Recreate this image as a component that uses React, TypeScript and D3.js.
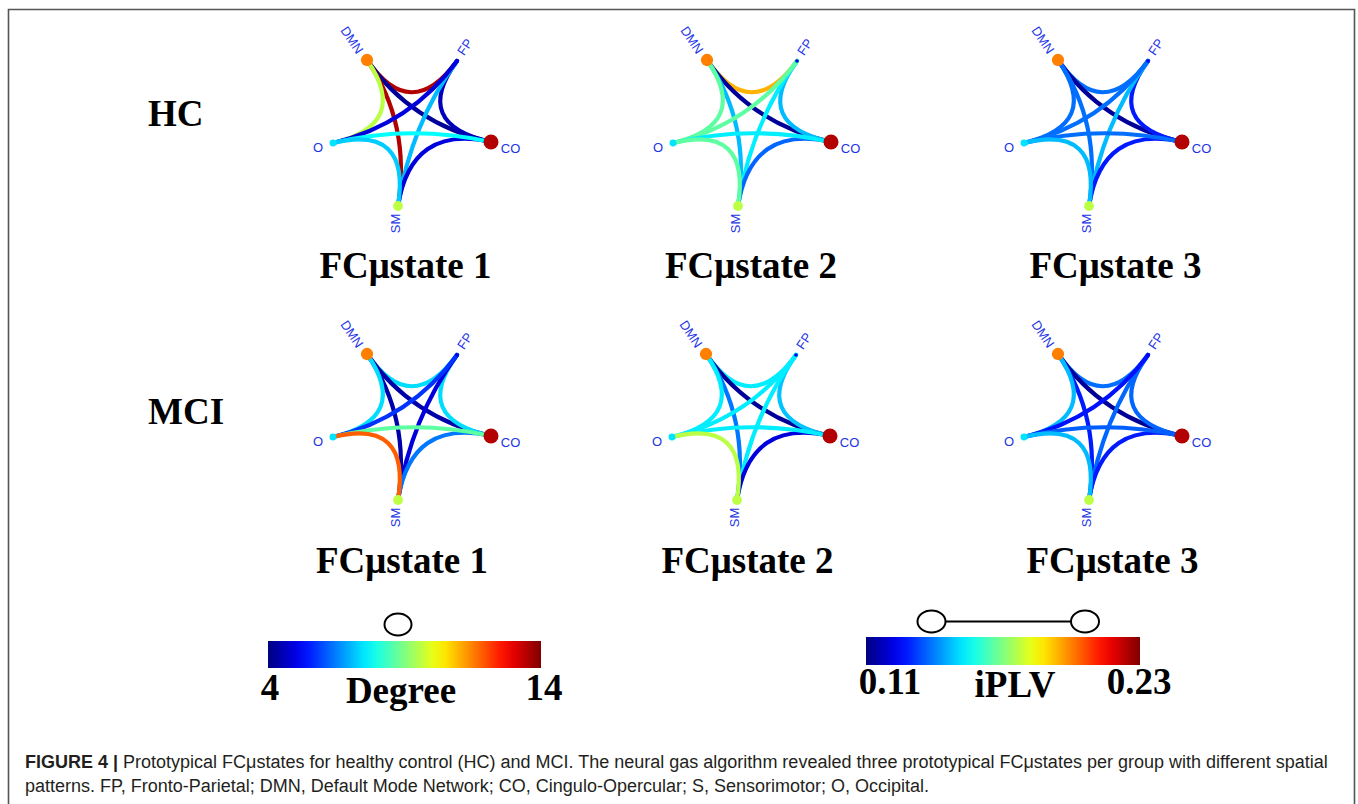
import React from "react";
import * as d3 from "d3";

// ---------- data ----------
const NODES = ["DMN", "FP", "CO", "SM", "O"];
const NODE_DEGREE = [11.5, 5, 13.5, 9.6, 7.5];
const EDGES: [string, string][] = [
  ["DMN", "FP"], ["DMN", "CO"], ["DMN", "SM"], ["DMN", "O"], ["FP", "CO"],
  ["FP", "SM"], ["FP", "O"], ["CO", "SM"], ["CO", "O"], ["SM", "O"],
];
const HC1 = [0.224, 0.113, 0.224, 0.177, 0.117, 0.147, 0.121, 0.121, 0.155, 0.149];
const HC2 = [0.194, 0.113, 0.147, 0.166, 0.147, 0.153, 0.166, 0.137, 0.153, 0.166];
const HC3 = [0.138, 0.113, 0.138, 0.138, 0.128, 0.147, 0.138, 0.128, 0.138, 0.147];
const MCI1 = [0.151, 0.115, 0.115, 0.151, 0.151, 0.121, 0.131, 0.139, 0.166, 0.204];
const MCI2 = [0.153, 0.113, 0.139, 0.153, 0.148, 0.153, 0.153, 0.121, 0.153, 0.177];
const MCI3 = [0.138, 0.113, 0.128, 0.147, 0.137, 0.137, 0.127, 0.128, 0.136, 0.147];
const STATES = [HC1, HC2, HC3, MCI1, MCI2, MCI3];
const STATE_TITLES = ["FCμstate 1", "FCμstate 2", "FCμstate 3", "FCμstate 1", "FCμstate 2", "FCμstate 3"];
const GROUPS = ["HC", "MCI"];
const DEGREE_TICKS = ["4", "14"];
const IPLV_TICKS = ["0.11", "0.23"];
const DEGREE_DOMAIN = [4, 14];
const IPLV_DOMAIN = [0.11, 0.23];
const CAPTION_BOLD = "FIGURE 4 | ";
const CAPTION_1 = "Prototypical FCμstates for healthy control (HC) and MCI. The neural gas algorithm revealed three prototypical FCμstates per group with different spatial";
const CAPTION_2 = "patterns. FP, Fronto-Parietal; DMN, Default Mode Network; CO, Cingulo-Opercular; S, Sensorimotor; O, Occipital.";

// ---------- layout ----------
const PANEL_ANCHORS = [
  [367, 60], [707, 60], [1058, 60],
  [367, 354], [706, 354], [1058, 354],
];
const TITLE_POS = [
  [405.5, 278], [751, 278], [1115.5, 278],
  [402, 573], [747.5, 573], [1112.5, 573],
];
const NODE_OFFSETS: Record<string, [number, number]> = {
  DMN: [0, 0], FP: [90, 1], CO: [124, 82], SM: [31, 146], O: [-34, 83],
};
const LABEL_OFFSETS: Record<string, [number, number, number]> = {
  DMN: [-15, -20, 56], FP: [98, -13, -56], CO: [143.5, 88, 0], SM: [28.5, 163.5, -90], O: [-49, 87.5, 0],
};
const CENTER_OFFSET: [number, number] = [44, 64];

function jet(t: number) {
  const c = (v: number) => Math.max(0, Math.min(1, v));
  const r = c(1.5 - Math.abs(4 * t - 3));
  const g = c(1.5 - Math.abs(4 * t - 2));
  const b = c(1.5 - Math.abs(4 * t - 1));
  return d3.rgb(r * 255, g * 255, b * 255).formatHex();
}

const degreeT = d3.scaleLinear().domain(DEGREE_DOMAIN).range([0, 1]).clamp(true);
const iplvT = d3.scaleLinear().domain(IPLV_DOMAIN).range([0, 1]).clamp(true);
const radius = d3.scaleLinear().domain([5, 13.5]).range([1.8, 7.5]);

const serif = "'Liberation Serif', 'Times New Roman', serif";
const sans = "'Liberation Sans', Arial, Helvetica, sans-serif";

function Panel({ idx }: { idx: number }) {
  const [ax, ay] = PANEL_ANCHORS[idx];
  const values = STATES[idx];
  const pos = (n: string) => [ax + NODE_OFFSETS[n][0], ay + NODE_OFFSETS[n][1]];
  const cx = ax + CENTER_OFFSET[0];
  const cy = ay + CENTER_OFFSET[1];
  return (
    <g>
      {EDGES.map(([s, t], i) => {
        const [sx, sy] = pos(s);
        const [tx, ty] = pos(t);
        const p = d3.path();
        p.moveTo(sx, sy);
        p.quadraticCurveTo(cx, cy, tx, ty);
        return (
          <path key={i} d={p.toString()} fill="none" stroke={jet(iplvT(values[i]))}
            strokeWidth={4.2} strokeLinecap="round" />
        );
      })}
      {NODES.map((n, i) => {
        const [x, y] = pos(n);
        return <circle key={n} cx={x} cy={y} r={radius(NODE_DEGREE[i])} fill={jet(degreeT(NODE_DEGREE[i]))} />;
      })}
      {NODES.map((n) => {
        const [dx, dy, rot] = LABEL_OFFSETS[n];
        const x = ax + dx, y = ay + dy;
        return (
          <text key={n} x={x} y={y} transform={`rotate(${rot},${x},${y})`} textAnchor="middle"
            dominantBaseline="central" fontFamily={sans} fontSize={13} fill="#2233e6">{n}</text>
        );
      })}
      <text x={TITLE_POS[idx][0]} y={TITLE_POS[idx][1]} textAnchor="middle" fontFamily={serif}
        fontWeight="bold" fontSize={37} fill="#000">{STATE_TITLES[idx]}</text>
    </g>
  );
}

function ColorBar({ x, y, w, h, id, ticks, label }: any) {
  const stops = d3.range(0, 1.0001, 0.05);
  return (
    <g>
      <defs>
        <linearGradient id={id} x1="0" x2="1" y1="0" y2="0">
          {stops.map((s) => <stop key={s} offset={s} stopColor={jet(s)} />)}
        </linearGradient>
      </defs>
      <rect x={x} y={y} width={w} height={h} fill={`url(#${id})`} />
      {ticks}
      {label}
    </g>
  );
}

export default function App() {
  return (
    <svg width={1358} height={804} style={{ position: "absolute", left: 0, top: 0, display: "block", background: "#fff" }}>
      <rect x={0} y={0} width={1358} height={804} fill="#fff" />
      <path d="M8.5,804 V9.5 H1354.5 V804" fill="none" stroke="#555" strokeWidth={1.6} />
      <text x={148} y={126} fontFamily={serif} fontWeight="bold" fontSize={37}>{GROUPS[0]}</text>
      <text x={148} y={424} fontFamily={serif} fontWeight="bold" fontSize={37}>{GROUPS[1]}</text>
      {STATES.map((_, i) => <Panel key={i} idx={i} />)}

      {/* Degree colorbar */}
      <ColorBar x={268} y={641} w={273} h={27} id="gDeg"
        ticks={<>
          <text x={270} y={700} textAnchor="middle" fontFamily={serif} fontWeight="bold" fontSize={37}>{DEGREE_TICKS[0]}</text>
          <text x={544} y={700} textAnchor="middle" fontFamily={serif} fontWeight="bold" fontSize={37}>{DEGREE_TICKS[1]}</text>
        </>}
        label={<text x={401} y={703} textAnchor="middle" fontFamily={serif} fontWeight="bold" fontSize={37}>Degree</text>} />
      <ellipse cx={398} cy={624.5} rx={13.5} ry={11} fill="#fff" stroke="#000" strokeWidth={2} />

      {/* iPLV colorbar */}
      <ColorBar x={866} y={637} w={274} h={28} id="gIplv"
        ticks={<>
          <text x={890} y={694} textAnchor="middle" fontFamily={serif} fontWeight="bold" fontSize={37}>{IPLV_TICKS[0]}</text>
          <text x={1139} y={694} textAnchor="middle" fontFamily={serif} fontWeight="bold" fontSize={37}>{IPLV_TICKS[1]}</text>
        </>}
        label={<text x={1015} y={697} textAnchor="middle" fontFamily={serif} fontWeight="bold" fontSize={37}>iPLV</text>} />
      <line x1={946} x2={1071} y1={621.5} y2={621.5} stroke="#000" strokeWidth={2} />
      <ellipse cx={931.5} cy={621.5} rx={14} ry={11} fill="#fff" stroke="#000" strokeWidth={2} />
      <ellipse cx={1085} cy={621.5} rx={14} ry={11} fill="#fff" stroke="#000" strokeWidth={2} />

      {/* caption */}
      <text x={25} y={768} fontFamily={sans} fontSize={18} fill="#231f20">
        <tspan fontWeight="bold">{CAPTION_BOLD}</tspan>
        <tspan>{CAPTION_1}</tspan>
      </text>
      <text x={25} y={792} fontFamily={sans} fontSize={18} fill="#231f20">{CAPTION_2}</text>
    </svg>
  );
}
